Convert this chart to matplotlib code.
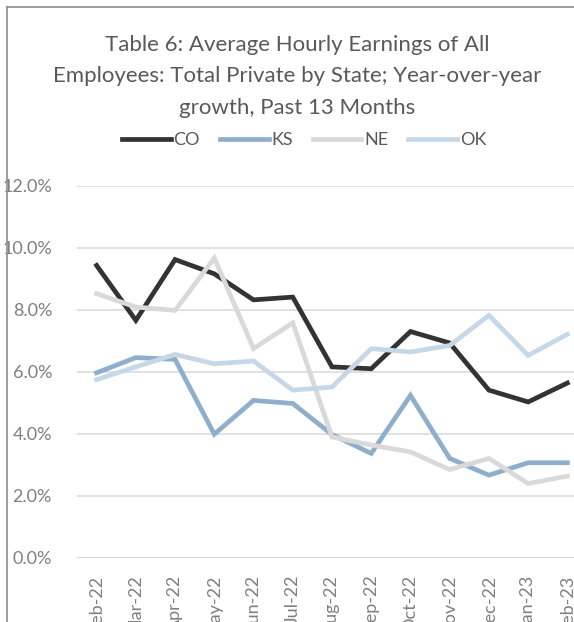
import matplotlib.pyplot as plt
from matplotlib.lines import Line2D

months = ["Feb-22", "Mar-22", "Apr-22", "May-22", "Jun-22", "Jul-22", "Aug-22",
          "Sep-22", "Oct-22", "Nov-22", "Dec-22", "Jan-23", "Feb-23"]
co = [9.43, 7.66, 9.62, 9.16, 8.32, 8.41, 6.16, 6.10, 7.30, 6.93, 5.41, 5.03, 5.64]
ks = [5.97, 6.46, 6.40, 3.99, 5.08, 4.98, 3.98, 3.37, 5.24, 3.21, 2.67, 3.07, 3.07]
ne = [8.52, 8.09, 7.98, 9.67, 6.75, 7.58, 3.90, 3.64, 3.42, 2.85, 3.21, 2.40, 2.64]
ok = [5.75, 6.16, 6.56, 6.26, 6.35, 5.41, 5.51, 6.75, 6.64, 6.85, 7.82, 6.53, 7.21]

series = [("CO", co, "#333333"), ("KS", ks, "#8EAECC"),
          ("NE", ne, "#D9D9D9"), ("OK", ok, "#C6D8E7")]

plt.rcParams['font.family'] = ['Lato', 'DejaVu Sans']
grey = "#7F7F7F"

W, H = 574, 622
fig = plt.figure(figsize=(W / 100, H / 100), dpi=100)

# plot area runs past the right edge (the reference is cropped)
left, right, top, bottom = 77, 587, 185.7, 558
ax = fig.add_axes([left / W, 1 - bottom / H, (right - left) / W, (bottom - top) / H])

x = list(range(len(months)))
for name, vals, col in series:
    ax.plot(x, vals, color=col, lw=3.4, label=name, solid_joinstyle='miter', zorder=3)

ax.set_xlim(-0.5, len(months) - 0.5)
ax.set_ylim(0, 12)
ax.set_yticks([0, 2, 4, 6, 8, 10, 12])
ax.set_yticklabels(["%.1f%%" % v for v in [0, 2, 4, 6, 8, 10, 12]], color=grey, fontsize=13)
ax.set_xticks(x)
ax.set_xticklabels(months, rotation=90, color=grey, fontsize=13)
ax.tick_params(length=0, axis='y', pad=18)
ax.tick_params(length=0, axis='x', pad=12)
ax.grid(axis='y', color="#D9D9D9", lw=1.1, zorder=0)
for s in ax.spines.values():
    s.set_visible(False)
ax.axhline(0, color="#BFBFBF", lw=1.2, zorder=1)

fig.text(297 / W, 1 - 76.5 / H,
         "Table 6: Average Hourly Earnings of All\nEmployees: Total Private by State; Year-over-year\ngrowth, Past 13 Months",
         ha='center', va='center', color="#595959", fontsize=16, linespacing=1.7)

handles = [Line2D([], [], color=c, lw=3.4) for _, _, c in series]
fig.legend(handles, [n for n, _, _ in series], loc='center', bbox_to_anchor=(304 / W, 1 - 140 / H),
           ncol=4, frameon=False, fontsize=13, labelcolor="#595959",
           handlelength=2.7, handletextpad=0.15, columnspacing=1.1)

# chart frame (left and top edges visible)
fig.add_artist(Line2D([7 / W, 7 / W], [0, 1 - 7 / H], color="#8C8C8C", lw=1.2))
fig.add_artist(Line2D([7 / W, 1], [1 - 7 / H, 1 - 7 / H], color="#8C8C8C", lw=1.2))

fig.savefig("out.png", dpi=100)
